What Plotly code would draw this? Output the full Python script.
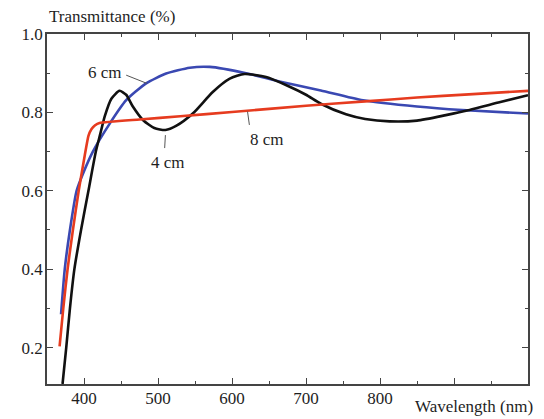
import plotly.graph_objects as go

# ---- data ----
wl_4cm = [371, 376, 381, 387, 396, 406, 416, 422, 428, 437, 448, 457, 466, 480, 495, 510,
          525, 547, 574, 597, 617, 646, 675, 700, 720, 754, 780, 813, 850, 889, 921, 960, 1000]
t_4cm = [0.107, 0.2, 0.3, 0.4, 0.5, 0.6, 0.7, 0.745, 0.79, 0.835, 0.855, 0.845, 0.815, 0.78, 0.76, 0.755,
         0.766, 0.797, 0.852, 0.886, 0.898, 0.89, 0.868, 0.845, 0.822, 0.795, 0.783, 0.777, 0.779, 0.793, 0.806, 0.825, 0.844]

wl_6cm = [369, 374, 381, 390, 400, 412, 435, 457, 484, 511, 543, 570, 619, 664, 720, 777, 850, 911, 1000]
t_6cm = [0.285, 0.4, 0.5, 0.6, 0.65, 0.7, 0.772, 0.831, 0.874, 0.899, 0.914, 0.916, 0.9, 0.879, 0.856, 0.831, 0.815, 0.806, 0.797]

wl_8cm = [367, 372, 378, 385, 393, 401, 406, 410, 415, 421, 475, 530, 600, 700, 780, 850, 920, 1000]
t_8cm = [0.203, 0.3, 0.403, 0.5, 0.602, 0.69, 0.74, 0.757, 0.767, 0.773, 0.782, 0.79, 0.801, 0.817, 0.828, 0.838, 0.846, 0.855]

x_tickvals = [400, 500, 600, 700, 800, 900, 1000]
x_ticktext = ["400", "500", "600", "700", "800", "", ""]
y_tickvals = [0.2, 0.4, 0.6, 0.8, 1.0]
y_ticktext = ["0.2", "0.4", "0.6", "0.8", "1.0"]

labels = ["6 cm", "4 cm", "8 cm"]
label_pos = [(428, 0.901), (513, 0.673), (647, 0.732)]
leaders = [((457, 0.895), (485, 0.874)), ((510, 0.742), (509, 0.709)), ((621, 0.802), (623.5, 0.768))]

FONT = "Liberation Serif, Times New Roman, Times, serif"
TXT = "#1e1e1e"

fig = go.Figure()
fig.add_trace(go.Scatter(x=wl_6cm, y=t_6cm, mode="lines", line=dict(color="#3a48b2", width=2.6, shape="spline", smoothing=0.6)))
fig.add_trace(go.Scatter(x=wl_4cm, y=t_4cm, mode="lines", line=dict(color="#111111", width=2.6, shape="spline", smoothing=0.6)))
fig.add_trace(go.Scatter(x=wl_8cm, y=t_8cm, mode="lines", line=dict(color="#e63b1f", width=2.6, shape="spline", smoothing=0.5)))

for txt, (lx, ly) in zip(labels, label_pos):
    fig.add_annotation(x=lx, y=ly, xref="x", yref="y", text=txt, showarrow=False,
                       xanchor="center", yanchor="middle",
                       font=dict(family=FONT, size=17, color=TXT))
for (a, b) in leaders:
    fig.add_shape(type="line", xref="x", yref="y", x0=a[0], y0=a[1], x1=b[0], y1=b[1],
                  line=dict(color="#555555", width=1))

fig.add_annotation(xref="paper", yref="paper", x=0.135, y=1.0486, text="Transmittance (%)",
                   xanchor="center", yanchor="middle",
                   showarrow=False, font=dict(family=FONT, size=17, color=TXT))
fig.add_annotation(xref="paper", yref="paper", x=0.888, y=-0.0657, text="Wavelength (nm)",
                   xanchor="center", yanchor="middle",
                   showarrow=False, font=dict(family=FONT, size=17, color=TXT))

axis_common = dict(showgrid=False, zeroline=False, showline=True, linecolor="#444444", linewidth=1.5,
                   mirror="ticks", ticks="inside", ticklen=6, tickwidth=1.3, tickcolor="#444444",
                   automargin=False, tickfont=dict(family=FONT, size=17, color=TXT))

fig.update_xaxes(range=[350, 1000], tickvals=x_tickvals, ticktext=x_ticktext, ticklabelstandoff=-2,
                 minor=dict(ticks="inside", ticklen=3, tickwidth=1.2, tickcolor="#444444", dtick=50, tick0=350),
                 **axis_common)
fig.update_yaxes(range=[0.107, 1.0], tickvals=y_tickvals, ticktext=y_ticktext, ticklabelstandoff=-1,
                 minor=dict(ticks="inside", ticklen=3, tickwidth=1.2, tickcolor="#444444", dtick=0.1, tick0=0.1),
                 **axis_common)

fig.update_layout(width=544, height=419, margin=dict(l=47, r=16, t=34, b=35),
                  plot_bgcolor="white", paper_bgcolor="white", showlegend=False)

fig.write_html("out.html", config={"displayModeBar": False},
               post_script="document.body.style.margin='0';document.body.style.overflow='hidden';")
